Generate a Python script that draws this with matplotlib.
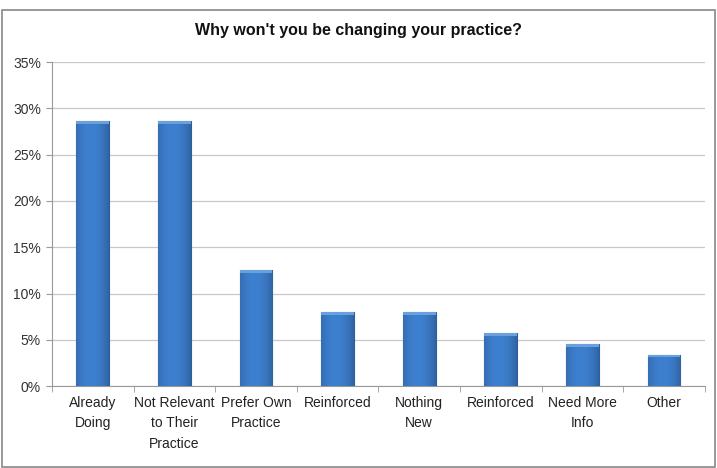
import numpy as np
import matplotlib.pyplot as plt
from matplotlib.patches import Rectangle

categories = ["Already\nDoing", "Not Relevant\nto Their\nPractice", "Prefer Own\nPractice",
              "Reinforced", "Nothing\nNew", "Reinforced", "Need More\nInfo", "Other"]
values = [28.6, 28.6, 12.5, 8.0, 8.0, 5.7, 4.5, 3.4]
yticks = [0, 5, 10, 15, 20, 25, 30, 35]

plt.rcParams['font.family'] = ['Liberation Sans Narrow', 'Liberation Sans', 'DejaVu Sans']

fig = plt.figure(figsize=(7.17, 4.68), dpi=100)
ax = fig.add_axes([0.0725, 0.175, 0.9105, 0.6925])

x = np.arange(len(categories))
bars = ax.bar(x, values, width=0.40, color="#3b78c6", edgecolor="#2d5d9c", linewidth=0.8, zorder=3)

# horizontal shading to mimic the bevelled Excel bars
grad = np.linspace(0, 1, 64)
shade = 1 - 0.22 * (np.abs(grad - 0.45) / 0.55) ** 2
cmap_img = np.zeros((1, 64, 3))
base = np.array([0x3e, 0x80, 0xd0]) / 255
for i in range(64):
    cmap_img[0, i] = base * shade[i]
for b in bars:
    x0, y0 = b.get_x(), b.get_y()
    w, h = b.get_width(), b.get_height()
    im = ax.imshow(cmap_img, extent=[x0, x0 + w, y0, y0 + h], aspect="auto", zorder=3.5)
    im.set_clip_path(b)
    # light top cap
    ax.add_patch(Rectangle((x0, y0 + h - 0.3), w, 0.3, color="#6aa0dc", zorder=3.6, lw=0))

ax.set_xlim(-0.5, len(categories) - 0.5)
ax.set_ylim(0, 35)
ax.set_yticks(yticks)
ax.set_yticklabels([f"{t}%" for t in yticks], fontsize=10, color="#333333")
ax.set_xticks(x)
ax.set_xticklabels(categories, fontsize=10, color="#222222", linespacing=1.6)
ax.set_xticks(np.arange(len(categories) + 1) - 0.5, minor=True)
ax.tick_params(axis="x", which="major", length=0, pad=7)
ax.tick_params(axis="x", which="minor", length=4, color="#999999")
ax.tick_params(axis="y", length=4, color="#999999", pad=4)
ax.yaxis.grid(True, color="#c8c8c8", linewidth=0.9, zorder=0)

for side in ["top", "right"]:
    ax.spines[side].set_visible(False)
ax.spines["left"].set_color("#999999")
ax.spines["bottom"].set_color("#999999")

fig.text(0.5, 0.935, "Why won't you be changing your practice?", ha="center", va="center",
         fontsize=11.5, fontweight="bold", color="#111111")

fig.patches.append(Rectangle((0.003, 0.003), 0.994, 0.975, transform=fig.transFigure,
                             fill=False, edgecolor="#888888", linewidth=1.2))

fig.savefig("out.png", dpi=100)
